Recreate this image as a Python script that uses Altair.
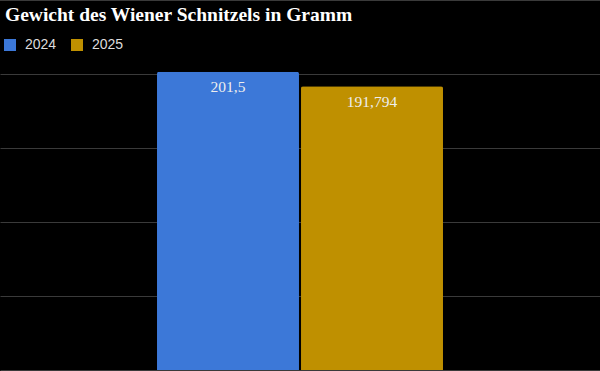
import altair as alt
import pandas as pd

category = ["Wiener Schnitzel", "Wiener Schnitzel"]
years = ["2024", "2025"]
weights = [201.5, 191.794]
colors = ["#3c78d8", "#bf9000"]
labels = [f"{v:g}".replace(".", ",") for v in weights]
grid_values = [0, 50, 100, 150, 200]
title_text = "Gewicht des Wiener Schnitzels in Gramm"

df = pd.DataFrame({"Kategorie": category, "Jahr": years, "Gewicht": weights, "Label": labels})

base = alt.Chart(df).encode(
    x=alt.X("Kategorie:N", scale=alt.Scale(paddingInner=0, paddingOuter=0.549), axis=None),
    xOffset=alt.XOffset("Jahr:N", scale=alt.Scale(paddingInner=0.014, paddingOuter=0)),
)

bars = base.mark_bar(cornerRadiusTopLeft=2, cornerRadiusTopRight=2).encode(
    y=alt.Y(
        "Gewicht:Q",
        scale=alt.Scale(domain=[0, 200], nice=False),
        axis=alt.Axis(values=grid_values, grid=True, gridColor="#3a3a3a", gridWidth=1,
                      labels=False, ticks=False, domain=False, title=None),
    ),
    color=alt.Color(
        "Jahr:N",
        scale=alt.Scale(domain=years, range=colors),
        legend=alt.Legend(
            orient="none", legendX=3, legendY=-36, direction="horizontal", title=None,
            symbolType="square", symbolSize=144, symbolStrokeWidth=0, symbolOpacity=1,
            labelFont="Liberation Sans", labelFontSize=14, labelColor="#dddddd",
            labelOffset=8, columnPadding=13, padding=0,
        ),
    ),
)

text = base.mark_text(
    dy=15.5, baseline="middle", align="center", font="Liberation Serif",
    fontSize=15.5, color="#eeeeee",
).encode(y=alt.Y("Gewicht:Q"), text="Label:N")

top_line = alt.Chart(df).mark_rule(color="#3a3a3a", strokeWidth=1).encode(
    x=alt.value(0), x2=alt.value(600), y=alt.value(-73.5)
)

chart = alt.layer(bars, text, top_line).properties(
    width=600, height=296,
    title=alt.TitleParams(
        title_text, anchor="start", frame="group", orient="top", baseline="alphabetic",
        offset=-40, dx=5, font="Liberation Serif", fontSize=19.5, fontWeight="bold", color="#ffffff",
    ),
    autosize=alt.AutoSizeParams(type="none"),
    padding={"left": 0, "right": 0, "top": 74, "bottom": 1},
    background="#000000",
).configure_view(stroke=None)

chart.save("out.html", embed_options={"renderer": "svg", "actions": False})
